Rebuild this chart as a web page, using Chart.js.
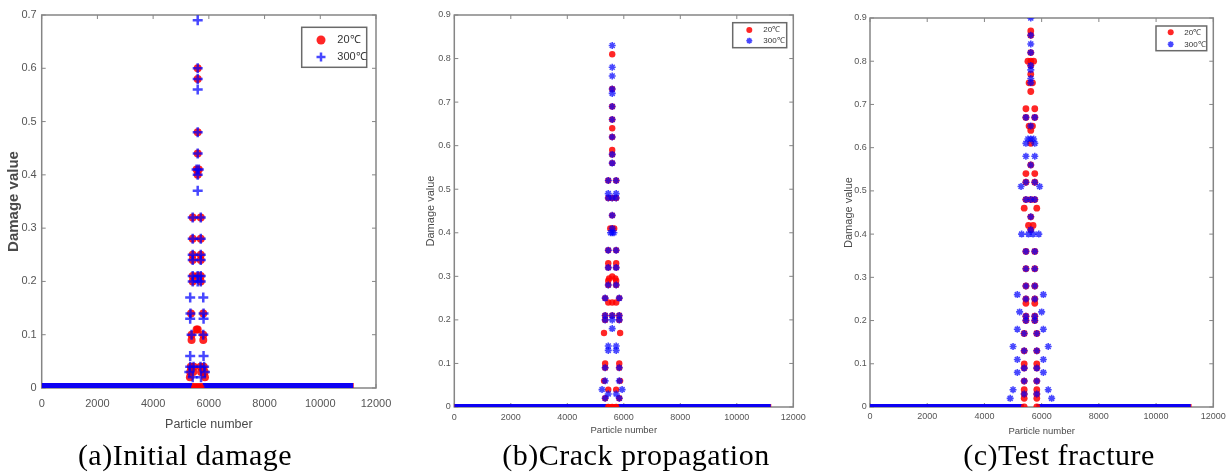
<!DOCTYPE html>
<html>
<head>
<meta charset="utf-8">
<script src="https://cdn.jsdelivr.net/npm/chart.js@4.4.1/dist/chart.umd.min.js"></script>
<style>
  body { margin: 0; background: #fff; }
  #wrap { position: relative; width: 1226px; height: 474px; overflow: hidden; }
  canvas { position: absolute; top: 0; filter: blur(0.35px); }
  .cap { position: absolute; top: 440px; line-height: 30px; font-family: 'Liberation Serif', 'Times New Roman', serif;
         font-size: 30px; letter-spacing: 0.5px; color: #000; white-space: nowrap; transform: translateX(-50%); }
</style>
</head>
<body>
<div id="wrap">
  <canvas id="chartA" width="410" height="474" style="left:0px"></canvas>
  <canvas id="chartB" width="410" height="474" style="left:410px"></canvas>
  <canvas id="chartC" width="406" height="474" style="left:820px"></canvas>
  <div class="cap" style="left:185px">(a)Initial damage</div>
  <div class="cap" style="left:636px">(b)Crack propagation</div>
  <div class="cap" style="left:1059px">(c)Test fracture</div>
</div>
<script>
'use strict';

// ── Data (particle number, damage value)
const seriesLabels = ['20℃', '300℃'];
const xTicks = [0, 2000, 4000, 6000, 8000, 10000, 12000];
const yMaxA = 0.7;
const yMaxBC = 0.9;

// (a) Initial damage
const initRed = [
  [5600,0.60],[5600,0.58],[5600,0.48],[5600,0.44],[5560,0.41],[5640,0.41],[5600,0.40],
  [5420,0.32],[5710,0.32],[5420,0.28],[5710,0.28],[5420,0.25],[5710,0.25],[5420,0.24],[5710,0.24],
  [5420,0.21],[5600,0.21],[5710,0.21],[5420,0.20],[5710,0.20],
  [5360,0.14],[5800,0.14],[5560,0.11],[5600,0.11],[5380,0.10],[5800,0.10],[5380,0.09],[5800,0.09],
  [5350,0.04],[5460,0.04],[5700,0.04],[5820,0.04],[5330,0.03],[5440,0.03],[5720,0.03],[5850,0.03],
  [5320,0.02],[5860,0.02],[5500,0],[5600,0],[5700,0]
];
const initBlue = [
  [5600,0.69],[5600,0.60],[5600,0.58],[5600,0.56],[5600,0.48],[5600,0.44],[5560,0.41],[5640,0.41],
  [5600,0.40],[5600,0.37],
  [5420,0.32],[5710,0.32],[5420,0.28],[5710,0.28],[5420,0.25],[5710,0.25],[5420,0.24],[5710,0.24],
  [5420,0.21],[5600,0.21],[5710,0.21],[5420,0.20],[5600,0.20],[5710,0.20],
  [5330,0.17],[5800,0.17],[5340,0.14],[5810,0.14],[5330,0.13],[5810,0.13],[5380,0.10],[5800,0.10],
  [5330,0.06],[5810,0.06],[5330,0.04],[5450,0.04],[5700,0.04],[5830,0.04],[5300,0.03],[5860,0.03],
  [5420,0.02],[5720,0.02]
];
const initRedZero = [[0, 11200]];
const initBlueZero = [[0, 5400], [5780, 11180]];

// (b) Crack propagation
const crackRed = [
  [5590,0.81],[5590,0.73],[5590,0.69],[5590,0.66],[5590,0.64],[5590,0.62],[5590,0.59],[5590,0.58],
  [5590,0.56],[5590,0.48],[5590,0.44],[5520,0.41],[5590,0.41],[5660,0.41],[5590,0.30],
  [5450,0.52],[5730,0.52],[5450,0.48],[5730,0.48],[5450,0.36],[5730,0.36],[5450,0.33],[5730,0.33],
  [5450,0.32],[5730,0.32],[5480,0.295],[5700,0.295],[5450,0.29],[5730,0.29],[5450,0.28],[5730,0.28],
  [5450,0.24],[5730,0.24],[5590,0.24],[5590,0.21],
  [5340,0.25],[5840,0.25],[5340,0.21],[5840,0.21],[5340,0.20],[5840,0.20],[5340,0.10],[5840,0.10],
  [5340,0.09],[5840,0.09],[5340,0.02],[5840,0.02],
  [5300,0.17],[5870,0.17],[5300,0.06],[5870,0.06],[5450,0.04],[5730,0.04],
  [5450,0],[5590,0],[5730,0]
];
const crackBlue = [
  [5590,0.83],[5590,0.78],[5590,0.76],[5590,0.73],[5590,0.72],[5590,0.69],[5590,0.66],[5590,0.62],
  [5590,0.58],[5590,0.56],[5590,0.48],[5590,0.44],[5590,0.41],[5530,0.40],[5590,0.40],[5650,0.40],
  [5590,0.21],[5590,0.20],[5590,0.18],
  [5450,0.52],[5730,0.52],[5450,0.49],[5730,0.49],[5450,0.48],[5730,0.48],[5450,0.36],[5730,0.36],
  [5450,0.32],[5730,0.32],[5450,0.28],[5730,0.28],[5450,0.14],[5730,0.14],[5450,0.13],[5730,0.13],
  [5450,0.03],[5730,0.03],
  [5340,0.25],[5840,0.25],[5340,0.21],[5840,0.21],[5340,0.20],[5840,0.20],[5340,0.09],[5840,0.09],
  [5340,0.06],[5840,0.06],[5340,0.02],[5840,0.02],[5230,0.04],[5940,0.04]
];
const crackRedZero = [[0, 11220]];
const crackBlueZero = [[0, 5390], [5800, 11200]];

// (c) Test fracture
const testRed = [
  [5620,0.87],[5620,0.86],[5620,0.82],[5520,0.80],[5620,0.80],[5720,0.80],[5620,0.79],[5620,0.77],
  [5560,0.75],[5680,0.75],[5620,0.73],[5560,0.65],[5680,0.65],[5620,0.64],[5620,0.61],[5620,0.56],
  [5620,0.48],[5620,0.44],[5540,0.42],[5700,0.42],[5620,0.41],
  [5450,0.69],[5760,0.69],[5450,0.67],[5760,0.67],[5450,0.54],[5760,0.54],[5450,0.52],[5760,0.52],
  [5450,0.48],[5760,0.48],[5450,0.36],[5760,0.36],[5450,0.32],[5760,0.32],[5450,0.28],[5760,0.28],
  [5450,0.25],[5760,0.25],[5450,0.24],[5760,0.24],[5450,0.21],[5760,0.21],[5450,0.20],[5760,0.20],
  [5390,0.46],[5830,0.46],[5390,0.17],[5830,0.17],[5390,0.13],[5830,0.13],[5390,0.10],[5830,0.10],
  [5390,0.09],[5830,0.09],[5390,0.06],[5830,0.06],[5390,0.04],[5830,0.04],[5390,0.03],[5830,0.03],
  [5390,0.02],[5830,0.02],[5390,0],[5830,0]
];
const testBlue = [
  [5620,0.90],[5620,0.86],[5620,0.84],[5620,0.82],[5620,0.79],[5620,0.78],[5620,0.76],[5620,0.75],
  [5620,0.65],[5520,0.62],[5620,0.62],[5720,0.62],[5620,0.56],[5620,0.48],[5620,0.44],[5620,0.41],
  [5540,0.40],[5700,0.40],
  [5450,0.67],[5760,0.67],[5450,0.61],[5760,0.61],[5450,0.58],[5760,0.58],[5450,0.52],[5760,0.52],
  [5450,0.48],[5760,0.48],[5450,0.36],[5760,0.36],[5450,0.32],[5760,0.32],[5450,0.28],[5760,0.28],
  [5450,0.25],[5760,0.25],[5450,0.21],[5760,0.21],[5450,0.20],[5760,0.20],
  [5390,0.17],[5830,0.17],[5390,0.13],[5830,0.13],[5390,0.09],[5830,0.09],[5390,0.06],[5830,0.06],
  [5390,0.03],[5830,0.03],
  [5280,0.51],[5930,0.51],[5300,0.40],[5900,0.40],[5230,0.22],[6000,0.22],
  [5150,0.26],[6060,0.26],[5150,0.18],[6060,0.18],[5150,0.11],[6060,0.11],[5150,0.08],[6060,0.08],
  [5000,0.14],[6230,0.14],[5000,0.04],[6230,0.04],[4900,0.02],[6350,0.02]
];
const testRedZero = [[0, 5380], [5810, 11240]];
const testBlueZero = [[0, 5360], [5830, 11210]];

// ── helpers
const toPoints = arr => arr.map(([x, y]) => ({ x, y }));
function runsToLine(runs) {
    const out = [];
    runs.forEach(([a, b], i) => {
        if (i > 0) out.push({ x: (runs[i - 1][1] + a) / 2, y: null });
        out.push({ x: a, y: 0 }, { x: b, y: 0 });
    });
    return out;
}

const RED = 'rgba(255,0,0,0.85)';
const BLUE = 'rgba(0,0,255,0.72)';
const FRAME = '#858585';
const NARROW = "'Liberation Sans Narrow', 'Liberation Sans', Arial, sans-serif";
const SANS = "'Liberation Sans', Arial, sans-serif";

// box frame with inward tick marks (MATLAB look)
const framePlugin = {
    id: 'frame',
    beforeDatasetsDraw(chart) {
        const { ctx, chartArea: a, scales: { x, y } } = chart;
        ctx.save();
        ctx.strokeStyle = FRAME;
        ctx.lineWidth = 1.5;
        ctx.strokeRect(a.left, a.top, a.right - a.left, a.bottom - a.top);
        ctx.lineWidth = 1;
        ctx.beginPath();
        x.ticks.forEach(t => {
            const px = x.getPixelForValue(t.value);
            ctx.moveTo(px, a.top); ctx.lineTo(px, a.top + 4);
            ctx.moveTo(px, a.bottom); ctx.lineTo(px, a.bottom - 4);
        });
        y.ticks.forEach(t => {
            const py = y.getPixelForValue(t.value);
            ctx.moveTo(a.left, py); ctx.lineTo(a.left + 4, py);
            ctx.moveTo(a.right, py); ctx.lineTo(a.right - 4, py);
        });
        ctx.stroke();
        ctx.restore();
    }
};

// legend box inside the top-right corner
const boxLegendPlugin = {
    id: 'boxLegend',
    afterDraw(chart, args, o) {
        const { ctx, chartArea: a } = chart;
        const bx = a.right - o.right - o.w, by = a.top + o.top;
        ctx.save();
        ctx.fillStyle = '#fff';
        ctx.fillRect(bx, by, o.w, o.h);
        ctx.strokeStyle = '#6a6a6a';
        ctx.lineWidth = 1.5;
        ctx.strokeRect(bx, by, o.w, o.h);
        const items = chart.data.datasets.filter(d => d.inLegend).sort((p, q) => p.legendRank - q.legendRank);
        items.forEach((d, i) => {
            const yy = by + o.rows[i];
            ctx.fillStyle = d.backgroundColor;
            ctx.strokeStyle = d.borderColor;
            ctx.lineWidth = d.borderWidth;
            Chart.helpers.drawPoint(ctx, { pointStyle: d.pointStyle, radius: o.markR, rotation: 0, borderWidth: d.borderWidth }, bx + o.markX, yy);
            ctx.fillStyle = '#333';
            ctx.font = o.font;
            ctx.textBaseline = 'middle';
            ctx.textAlign = 'left';
            ctx.fillText(d.label, bx + o.textX, yy);
        });
        ctx.restore();
    }
};

function makePanel(id, p) {
    const datasets = [
        { label: seriesLabels[1], data: toPoints(p.blue), inLegend: true, legendRank: 1, order: 0,
          pointStyle: p.blueStyle, pointRadius: p.blueR, backgroundColor: BLUE, borderColor: BLUE, borderWidth: p.blueW },
        { label: seriesLabels[0], data: toPoints(p.red), inLegend: true, legendRank: 0, order: 1,
          pointStyle: 'circle', pointRadius: p.redR, backgroundColor: RED, borderColor: RED, borderWidth: 0 },
        { type: 'line', label: 'zeroBlue', data: runsToLine(p.blueZero), order: 2, spanGaps: false,
          borderColor: 'rgba(0,0,255,0.95)', borderWidth: p.band, pointRadius: 0, borderCapStyle: 'butt' },
        { type: 'line', label: 'zeroRed', data: runsToLine(p.redZero), order: 3, spanGaps: false,
          borderColor: 'rgba(255,0,0,0.9)', borderWidth: p.band, pointRadius: 0, borderCapStyle: 'butt' }
    ];
    const H = 474;
    return new Chart(document.getElementById(id), {
        type: 'scatter',
        data: { datasets },
        plugins: [framePlugin, boxLegendPlugin],
        options: {
            responsive: false,
            animation: false,
            devicePixelRatio: 1,
            layout: { padding: { left: 0, top: p.top, right: p.W - p.right, bottom: H - p.bottom - p.xh } },
            plugins: {
                legend: { display: false },
                tooltip: { enabled: false },
                boxLegend: p.legend
            },
            scales: {
                x: {
                    type: 'linear', min: 0, max: 12000,
                    afterBuildTicks: s => { s.ticks = xTicks.map(v => ({ value: v })); },
                    afterFit: s => { s.height = p.xh; s.paddingLeft = 0; s.paddingRight = 0; },
                    grid: { display: false, drawTicks: false },
                    border: { display: false },
                    ticks: { color: '#555', padding: p.xTickPad, maxRotation: 0, autoSkip: false,
                             font: { family: NARROW, size: p.tickSize }, callback: v => String(v) },
                    title: { display: true, text: 'Particle number', color: '#4a4a4a',
                             font: { family: NARROW, size: p.xTitleSize }, padding: { top: 0, bottom: p.xTitlePad } }
                },
                y: {
                    type: 'linear', min: 0, max: p.yMax,
                    ticks: { stepSize: 0.1, color: '#555', padding: p.yTickPad,
                             font: { family: NARROW, size: p.tickSize }, callback: v => String(Math.round(v * 10) / 10) },
                    afterFit: s => { s.width = p.left; s.paddingTop = 0; s.paddingBottom = 0; },
                    grid: { display: false, drawTicks: false },
                    border: { display: false },
                    title: { display: true, text: 'Damage value', color: '#4a4a4a',
                             font: { family: SANS, size: p.yTitleSize, weight: p.yTitleWeight }, padding: { top: p.yTitlePad, bottom: 0 } }
                }
            }
        }
    });
}

makePanel('chartA', {
    W: 410, left: 41.7, right: 376, top: 15, bottom: 388, xh: 50, yMax: yMaxA,
    red: initRed, blue: initBlue, redZero: initRedZero, blueZero: initBlueZero,
    blueStyle: 'cross', blueR: 5, blueW: 2.5, redR: 4, band: 10,
    tickSize: 11, xTickPad: 9.5, yTickPad: 5, xTitleSize: 12.5, xTitlePad: 5.5,
    yTitleSize: 15, yTitleWeight: 'bold', yTitlePad: 5,
    legend: { right: 9.3, top: 12.3, w: 65, h: 40, markX: 19.3, textX: 35.6, rows: [12.7, 29.7], markR: 4.5,
              font: "11px " + NARROW }
});

makePanel('chartB', {
    W: 410, left: 44.3, right: 383.3, top: 15, bottom: 407, xh: 40, yMax: yMaxBC,
    red: crackRed, blue: crackBlue, redZero: crackRedZero, blueZero: crackBlueZero,
    blueStyle: 'star', blueR: 3.5, blueW: 1.6, redR: 3.2, band: 6,
    tickSize: 9, xTickPad: 4.8, yTickPad: 3.6, xTitleSize: 9.5, xTitlePad: 10.5,
    yTitleSize: 11, yTitleWeight: 'normal', yTitlePad: 14,
    legend: { right: 6.6, top: 7.7, w: 54, h: 25, markX: 16.6, textX: 30.6, rows: [7.3, 18], markR: 3,
              font: "8px " + NARROW }
});

makePanel('chartC', {
    W: 406, left: 50, right: 393.3, top: 18, bottom: 407, xh: 40, yMax: yMaxBC,
    red: testRed, blue: testBlue, redZero: testRedZero, blueZero: testBlueZero,
    blueStyle: 'star', blueR: 3.5, blueW: 1.6, redR: 3.4, band: 6,
    tickSize: 9, xTickPad: 4.2, yTickPad: 3.3, xTitleSize: 9.5, xTitlePad: 10.2,
    yTitleSize: 11, yTitleWeight: 'normal', yTitlePad: 22.7,
    legend: { right: 6.6, top: 8, w: 50.7, h: 24.7, markX: 14.7, textX: 28.3, rows: [6.3, 18.3], markR: 3,
              font: "8px " + NARROW }
});
</script>
</body>
</html>
